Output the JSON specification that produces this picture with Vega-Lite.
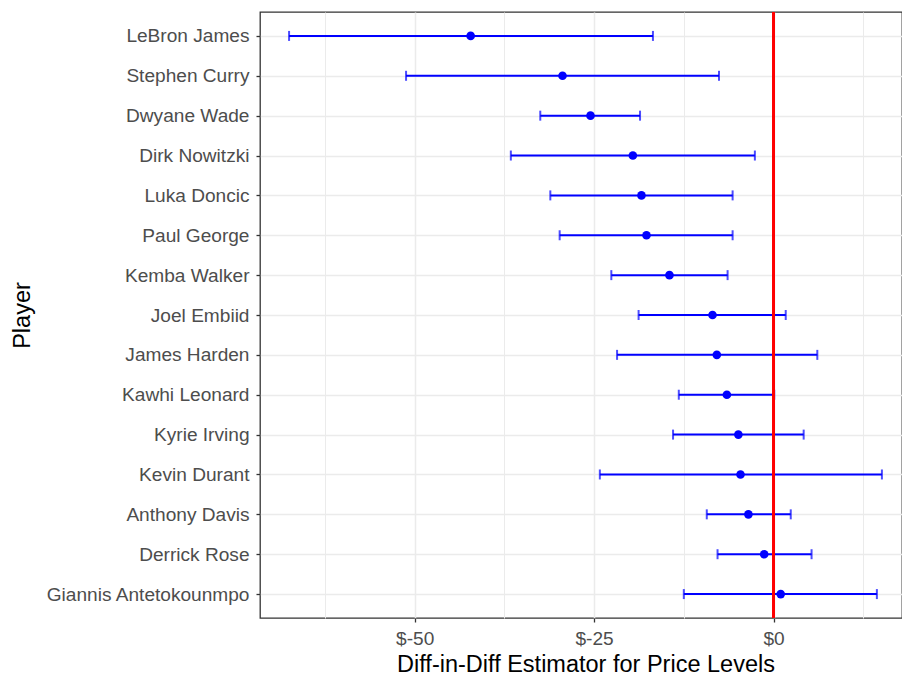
{
  "$schema": "https://vega.github.io/schema/vega-lite/v6.json",
  "autosize": {"type": "none"},
  "padding": {"left": 260, "top": 12, "right": 0, "bottom": 59},
  "width": 642,
  "height": 606,
  "background": "white",
  "config": {
    "font": "Liberation Sans",
    "view": {"stroke": "#333333", "strokeWidth": 1.3},
    "axis": {
      "labelFont": "Liberation Sans",
      "titleFont": "Liberation Sans",
      "labelColor": "#4D4D4D",
      "titleColor": "#000000",
      "titleFontWeight": "normal",
      "tickColor": "#333333",
      "tickWidth": 1.3,
      "tickSize": 4,
      "domain": false,
      "gridColor": "#EBEBEB",
      "labelFontSize": 19.1,
      "titleFontSize": 23.5,
      "labelPadding": 7,
      "labelLimit": 400
    }
  },
  "data": {
    "values": [
      {"player": "LeBron James", "lo": -67.5, "est": -42.2, "hi": -16.8},
      {"player": "Stephen Curry", "lo": -51.2, "est": -29.4, "hi": -7.6},
      {"player": "Dwyane Wade", "lo": -32.5, "est": -25.5, "hi": -18.6},
      {"player": "Dirk Nowitzki", "lo": -36.6, "est": -19.6, "hi": -2.6},
      {"player": "Luka Doncic", "lo": -31.1, "est": -18.4, "hi": -5.7},
      {"player": "Paul George", "lo": -29.8, "est": -17.7, "hi": -5.7},
      {"player": "Kemba Walker", "lo": -22.6, "est": -14.5, "hi": -6.4},
      {"player": "Joel Embiid", "lo": -18.8, "est": -8.5, "hi": 1.7},
      {"player": "James Harden", "lo": -21.8, "est": -7.9, "hi": 6.1},
      {"player": "Kawhi Leonard", "lo": -13.2, "est": -6.5, "hi": 0.1},
      {"player": "Kyrie Irving", "lo": -14.0, "est": -4.9, "hi": 4.2},
      {"player": "Kevin Durant", "lo": -24.2, "est": -4.6, "hi": 15.1},
      {"player": "Anthony Davis", "lo": -9.3, "est": -3.5, "hi": 2.4},
      {"player": "Derrick Rose", "lo": -7.8, "est": -1.3, "hi": 5.3},
      {"player": "Giannis Antetokounmpo", "lo": -12.5, "est": 1.0, "hi": 14.4}
    ]
  },
  "encoding": {
    "y": {
      "field": "player", "type": "nominal", "sort": null,
      "scale": {"type": "point", "padding": 0.6},
      "axis": {
        "title": "Player",
        "titlePadding": 26,
        "grid": true,
        "gridWidth": 1.5
      }
    }
  },
  "layer": [
    {
      "mark": {"type": "rule", "color": "#0000FF", "strokeWidth": 2},
      "encoding": {
        "x": {
          "field": "lo", "type": "quantitative",
          "scale": {"domain": [-71.55, 17.9], "nice": false, "zero": false},
          "axis": {
            "title": "Diff-in-Diff Estimator for Price Levels",
            "values": [-62.5, -50, -37.5, -25, -12.5, 0, 12.5],
            "labelExpr": "datum.value % 25 === 0 ? '$' + datum.value : ''",
            "tickOpacity": {"condition": {"test": "datum.value % 25 === 0", "value": 1}, "value": 0},
            "gridWidth": {"condition": {"test": "datum.value % 25 === 0", "value": 1.5}, "value": 1},
            "grid": true,
            "titlePadding": 4,
            "titleX": 325.5
          }
        },
        "x2": {"field": "hi"}
      }
    },
    {
      "mark": {"type": "tick", "color": "#0000FF", "thickness": 2, "size": 10},
      "encoding": {
        "x": {"field": "lo", "type": "quantitative"}
      }
    },
    {
      "mark": {"type": "tick", "color": "#0000FF", "thickness": 2, "size": 10},
      "encoding": {
        "x": {"field": "hi", "type": "quantitative"}
      }
    },
    {
      "mark": {"type": "circle", "color": "#0000FF", "opacity": 1, "size": 75},
      "encoding": {
        "x": {"field": "est", "type": "quantitative"}
      }
    },
    {
      "mark": {"type": "rule", "color": "#FF0000", "strokeWidth": 1.5},
      "encoding": {
        "x": {"datum": 0, "type": "quantitative"},
        "y": null
      }
    }
  ]
}
